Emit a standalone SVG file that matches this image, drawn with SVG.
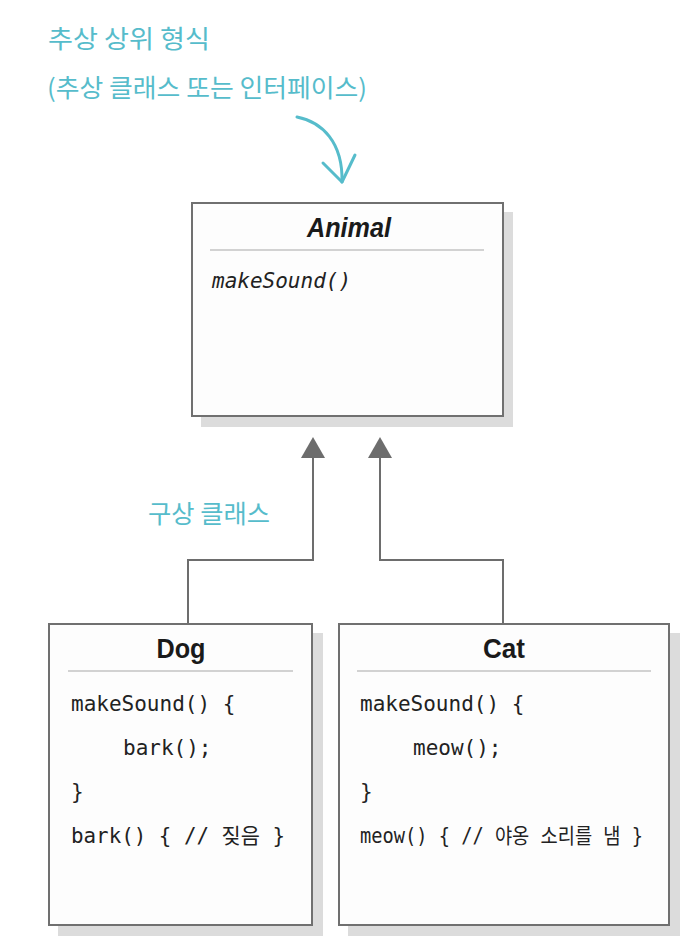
<svg xmlns="http://www.w3.org/2000/svg" width="698" height="950" viewBox="0 0 698 950">
<style>
.shadow{fill:#dcdcdc}
.box{fill:#fdfdfd;stroke:#707070;stroke-width:2}
.sep{stroke:#a8a8a8;stroke-width:1.2}
.title{font-family:"Liberation Sans",Arial,sans-serif;font-weight:bold;font-size:28px;fill:#1a1a1a;text-anchor:middle}
.code{font-family:"DejaVu Sans Mono","Noto Sans CJK KR",monospace;font-size:21px;fill:#222}
.note{font-family:"Noto Sans CJK KR",sans-serif;fill:#56bccb;font-size:25px}
.conn{fill:none;stroke:#6d6d6d;stroke-width:2}
.head{fill:#6d6d6d}
</style>
<rect width="698" height="950" fill="#fff"/>
<g id="notes">
<text class="note" x="48" y="48" textLength="162" lengthAdjust="spacingAndGlyphs">추상 상위 형식</text>
<text class="note" x="47" y="97" textLength="320" lengthAdjust="spacingAndGlyphs">(추상 클래스 또는 인터페이스)</text>
<path d="M297,117 C322,122 343,142 342,182" fill="none" stroke="#56bccb" stroke-width="3" stroke-linecap="round"/>
<path d="M323,163 L342,182 L355,155" fill="none" stroke="#56bccb" stroke-width="3" stroke-linecap="round" stroke-linejoin="round"/>
<text class="note" x="148" y="523" textLength="122" lengthAdjust="spacingAndGlyphs">구상 클래스</text>
</g>
<g id="connectors">
<path class="conn" d="M313,456 V560 H188 V623"/>
<polygon class="head" points="313,437 301,458 325,458"/>
<path class="conn" d="M380,456 V560 H503 V623"/>
<polygon class="head" points="380,437 368,458 392,458"/>
</g>
<g id="animal">
<rect class="shadow" x="201" y="212" width="312" height="215"/>
<rect class="box" x="192" y="203" width="311" height="213"/>
<line class="sep" x1="210" y1="250" x2="484" y2="250"/>
<text class="title" x="349" y="237" font-size="31" font-style="italic" textLength="84" lengthAdjust="spacingAndGlyphs">Animal</text>
<text class="code" x="212" y="288" font-style="italic">makeSound()</text>
</g>
<g id="dog">
<rect class="shadow" x="58" y="633" width="265" height="303"/>
<rect class="box" x="49" y="624" width="263" height="301"/>
<line class="sep" x1="68" y1="671" x2="293" y2="671"/>
<text class="title" x="181" y="658" textLength="49" lengthAdjust="spacingAndGlyphs">Dog</text>
<text class="code" x="71" y="711">makeSound() {</text>
<text class="code" x="123" y="755">bark();</text>
<text class="code" x="71" y="799">}</text>
<text class="code" x="71" y="843" textLength="214" lengthAdjust="spacingAndGlyphs">bark() { // 짖음 }</text>
</g>
<g id="cat">
<rect class="shadow" x="348" y="633" width="332" height="303"/>
<rect class="box" x="339" y="624" width="330" height="301"/>
<line class="sep" x1="357" y1="671" x2="651" y2="671"/>
<text class="title" x="504" y="658" textLength="42" lengthAdjust="spacingAndGlyphs">Cat</text>
<text class="code" x="360" y="711">makeSound() {</text>
<text class="code" x="413" y="755">meow();</text>
<text class="code" x="360" y="799">}</text>
<text class="code" x="360" y="843" textLength="283" lengthAdjust="spacingAndGlyphs">meow() { // 야옹 소리를 냄 }</text>
</g>
</svg>
